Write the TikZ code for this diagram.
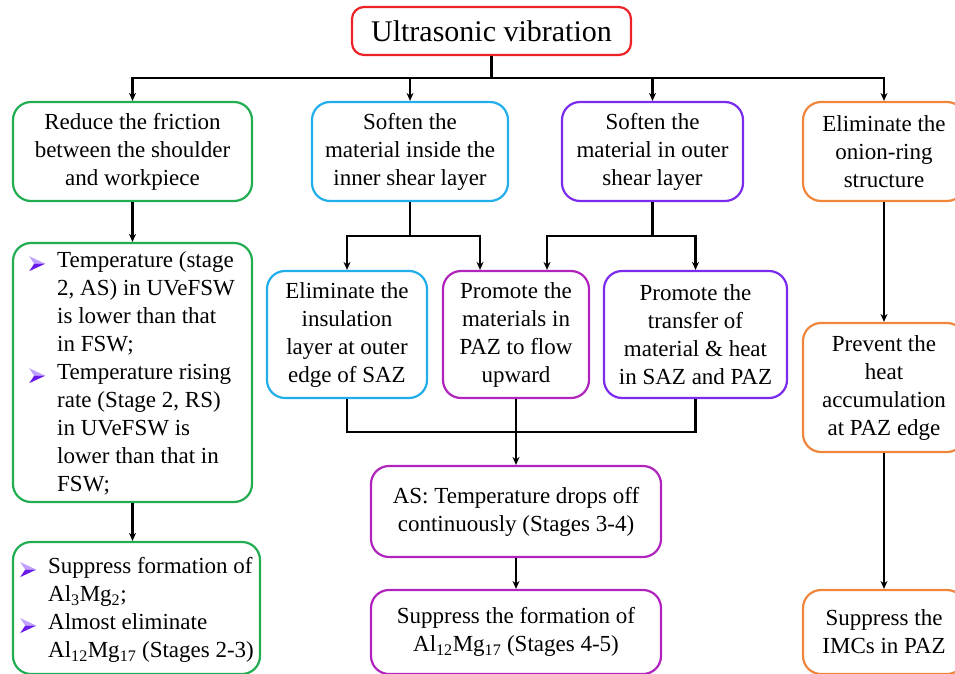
\documentclass[tikz,border=0pt]{standalone}
\usepackage{fontspec}
\setmainfont{Liberation Serif}
\usetikzlibrary{arrows.meta,calc}
\definecolor{cred}{HTML}{EC2227}
\definecolor{cgreen}{HTML}{22AD52}
\definecolor{cblue}{HTML}{22AEEA}
\definecolor{cpurple}{HTML}{7A2BEE}
\definecolor{cmag}{HTML}{B024BD}
\definecolor{corange}{HTML}{F0863C}
\definecolor{bulL}{HTML}{C0A0FF}
\definecolor{bulD}{HTML}{6A1AE8}
\newcommand\mybul{\llap{\tikz[baseline=-4pt,x=1pt,y=1pt]{\fill[bulL,draw=none] (0,7.5)--(16,0)--(5,0)--cycle; \fill[bulD,draw=none] (0,-7.5)--(16,0)--(5,0)--cycle;}\hspace{12pt}}}
\tikzset{
  box/.style={draw=#1, line width=2.2pt, rounded corners=18pt, align=center,
    font=\fontsize{23}{28}\selectfont, inner sep=0pt, fill=white},
  txt/.style={align=left, font=\fontsize{23}{28}\selectfont, inner sep=0pt},
  con/.style={line width=2.2pt, black},
  arr/.style={con, -{Stealth[length=8pt,width=7pt]}}
}
\begin{document}
\begin{tikzpicture}[x=1pt,y=-1pt]
\useasboundingbox (0,0) rectangle (955,674);
\clip (0,0) rectangle (955,674);
% title
\node[box=cred, rounded corners=12pt, minimum width=279pt, minimum height=48pt,
  font=\fontsize{30}{34}\selectfont] (T) at (491.5,31) {Ultrasonic vibration};
% row 1
\node[box=cgreen, minimum width=239pt, minimum height=99pt] (G1) at (132.5,151.5)
  {Reduce the friction\\between the shoulder\\and workpiece};
\node[box=cblue, minimum width=196pt, minimum height=99pt] (B1) at (410,151.5)
  {Soften the\\material inside the\\inner shear layer};
\node[box=cpurple, minimum width=181pt, minimum height=99pt] (P1) at (652.5,151.5)
  {Soften the\\material in outer\\shear layer};
\node[box=corange, minimum width=162pt, minimum height=99pt] (O1) at (884,151.5)
  {Eliminate the\\onion-ring\\structure};
% green column
\node[box=cgreen, minimum width=239pt, minimum height=259pt] (G2) at (132.5,372.5) {};
\node[txt, anchor=west] (G2t) at (57,373.5)
  {\mybul Temperature (stage\\ 2, AS) in UVeFSW\\ is lower than that\\ in FSW;\\
   \mybul Temperature rising\\ rate (Stage 2, RS)\\ in UVeFSW is\\ lower than that in\\ FSW;};
\node[box=cgreen, minimum width=247pt, minimum height=132pt] (G3) at (136.5,608) {};
\node[txt, anchor=west] (G3t) at (48,610)
  {\mybul Suppress formation of\\ Al\textsubscript{3}Mg\textsubscript{2};\\
   \mybul Almost eliminate\\ Al\textsubscript{12}Mg\textsubscript{17} (Stages 2-3)};
% row 2 middle
\node[box=cblue, minimum width=160pt, minimum height=127pt] (B2) at (347,334.5)
  {Eliminate the\\insulation\\layer at outer\\edge of SAZ};
\node[box=cmag, minimum width=146pt, minimum height=127pt] (M2) at (516,334.5)
  {Promote the\\materials in\\PAZ to flow\\upward};
\node[box=cpurple, minimum width=183pt, minimum height=127pt] (P2) at (695.5,334.5)
  {Promote the\\transfer of\\material \& heat\\in SAZ and PAZ};
\node[box=cmag, minimum width=290pt, minimum height=91pt] (M3) at (516,511.5)
  {AS: Temperature drops off\\continuously (Stages 3-4)};
\node[box=cmag, minimum width=290pt, minimum height=84pt] (M4) at (516,632)
  {Suppress the formation of\\Al\textsubscript{12}Mg\textsubscript{17} (Stages 4-5)};
% orange column
\node[box=corange, minimum width=162pt, minimum height=129pt] (O2) at (884,387.5)
  {Prevent the\\heat\\accumulation\\at PAZ edge};
\node[box=corange, minimum width=162pt, minimum height=84pt] (O3) at (884,632)
  {Suppress the\\IMCs in PAZ};
% connectors
\coordinate (j0) at (491.5,78);
\draw[con] (T.south) -- (j0);
\draw[arr] (j0) -| (G1.north);
\draw[arr] (j0) -| (B1.north);
\draw[arr] (j0) -| (P1.north);
\draw[arr] (j0) -| (O1.north);
\draw[arr] (G1.south) -- (G2.north);
\draw[arr] (G2.south) -- (G2.south |- G3.north);
\coordinate (jB) at (410,236);
\coordinate (jP) at (652.5,236);
\draw[con] (B1.south) -- (jB);
\draw[con] (P1.south) -- (jP);
\draw[arr] (jB) -| (B2.north);
\draw[arr] (jB) -| ([xshift=-36pt]M2.north);
\draw[arr] (jP) -| ([xshift=31pt]M2.north);
\draw[arr] (jP) -| (P2.north);
\coordinate (jL) at (347,432);
\draw[con] (B2.south) -- (jL) -| (P2.south);
\draw[arr] (M2.south) -- (M3.north);
\draw[arr] (M3.south) -- (M4.north);
\draw[arr] (O1.south) -- (O2.north);
\draw[arr] (O2.south) -- (O3.north);
\end{tikzpicture}
\end{document}
